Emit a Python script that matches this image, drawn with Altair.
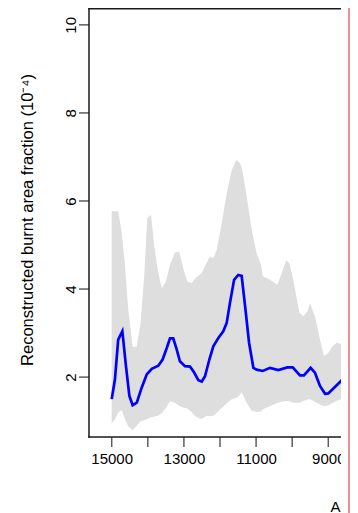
import altair as alt
import pandas as pd

# ---- data ----
line_age = [15000, 14910, 14820, 14705, 14605, 14510, 14420, 14305, 14170, 14030,
            13890, 13710, 13590, 13475, 13385, 13295, 13200, 13110, 12970, 12830,
            12720, 12600, 12505, 12415, 12295, 12185, 12045, 11910, 11815, 11725,
            11610, 11495, 11400, 11305, 11195, 11075, 10985, 10815, 10615, 10385,
            10135, 9985, 9785, 9675, 9490, 9370, 9230, 9090, 9000, 8860, 8675, 8600]
line_val = [1.50, 1.95, 2.85, 3.04, 2.25, 1.57, 1.36, 1.42, 1.76, 2.06,
            2.19, 2.26, 2.40, 2.66, 2.88, 2.88, 2.63, 2.36, 2.25, 2.24,
            2.11, 1.93, 1.90, 2.02, 2.40, 2.70, 2.89, 3.04, 3.23, 3.68,
            4.21, 4.32, 4.30, 3.61, 2.78, 2.21, 2.17, 2.14, 2.21, 2.16,
            2.22, 2.22, 2.04, 2.04, 2.21, 2.10, 1.80, 1.62, 1.63, 1.74, 1.89, 1.95]

band_age = [15000, 14910, 14820, 14720, 14630, 14540, 14420, 14310, 14200, 14100,
            14015, 13910, 13830, 13725, 13615, 13500, 13385, 13250, 13130, 13020,
            12905, 12785, 12665, 12510, 12370, 12280, 12185, 12090, 11955, 11815,
            11675, 11540, 11445, 11400, 11260, 11120, 10985, 10865, 10815, 10615,
            10410, 10290, 10170, 10080, 9970, 9800, 9690, 9580, 9505, 9370,
            9230, 9120, 9000, 8880, 8770, 8660, 8600]
band_upper = [5.78, 5.76, 5.77, 5.27, 4.51, 3.53, 2.69, 2.69, 3.23, 4.29,
              5.61, 5.68, 5.04, 4.44, 4.02, 4.17, 4.55, 4.83, 4.85, 4.47,
              4.17, 4.14, 4.26, 4.36, 4.59, 4.74, 4.70, 4.89, 5.49, 6.17,
              6.70, 6.94, 6.85, 6.77, 6.10, 5.34, 4.81, 4.55, 4.29, 4.21,
              4.10, 4.36, 4.65, 4.59, 4.21, 3.46, 3.38, 3.49, 3.68, 3.38,
              2.85, 2.48, 2.55, 2.70, 2.78, 2.76, 2.76]
band_lower = [0.95, 1.04, 1.20, 1.25, 1.04, 0.88, 0.80, 0.89, 1.00, 1.02,
              1.05, 1.09, 1.10, 1.12, 1.18, 1.30, 1.45, 1.42, 1.35, 1.31,
              1.29, 1.20, 1.10, 1.05, 1.12, 1.11, 1.12, 1.19, 1.30, 1.40,
              1.50, 1.53, 1.60, 1.66, 1.42, 1.23, 1.21, 1.22, 1.27, 1.34,
              1.42, 1.44, 1.46, 1.45, 1.42, 1.42, 1.46, 1.49, 1.50, 1.44,
              1.38, 1.34, 1.36, 1.41, 1.46, 1.50, 1.50]

x_ticks = [15000, 14000, 13000, 12000, 11000, 10000, 9000]
y_ticks = [2, 4, 6, 8, 10]

x_title = "Age (cal yr BP)"
y_title = "Reconstructed burnt area fraction (10\u207b\u2074)"

line_df = pd.DataFrame({"age": line_age, "val": line_val})
band_df = pd.DataFrame({"age": band_age, "upper": band_upper, "lower": band_lower})
xt_df = pd.DataFrame({"age": x_ticks})
yt_df = pd.DataFrame({"val": y_ticks})

FONT = "Liberation Sans"
W, H = 252, 428
LW = 1.5
INK = "#1a1a1a"

x_scale = alt.Scale(domain=[8648, 15629], reverse=True, nice=False, zero=False)
y_scale = alt.Scale(domain=[0.64, 10.36], nice=False, zero=False)

common = dict(
    domain=False, ticks=False, labelColor="black",
    labelFont=FONT, labelFontSize=15, tickSize=10,
    labelFlush=False, labelOverlap=False, grid=False, zindex=0,
    titleFont=FONT, titleFontWeight="normal", titleColor="black",
)

x_axis = alt.Axis(
    values=x_ticks,
    labelExpr="datum.value % 2000 == 1000 ? format(datum.value, 'd') : ''",
    labelPadding=14.6,
    title=x_title, titleX=241, titleY=74, titleAlign="left",
    titleBaseline="alphabetic", titleAngle=0, titleFontSize=15,
    **common,
)
y_axis = alt.Axis(
    values=y_ticks, format="d",
    labelAngle=270, labelAlign="center", labelBaseline="alphabetic",
    labelPadding=14,
    title=y_title, titleX=-56.5, titleY=210.5, titleAlign="center",
    titleBaseline="alphabetic", titleAngle=270, titleFontSize=16.5,
    **common,
)

band = alt.Chart(band_df).mark_area(color="#dedede", clip=True).encode(
    x=alt.X("age:Q", scale=x_scale, axis=x_axis, title=x_title),
    y=alt.Y("upper:Q", scale=y_scale, axis=y_axis, title=y_title),
    y2="lower:Q",
)

line = alt.Chart(line_df).mark_line(color="#0000ff", strokeWidth=2.7, clip=True).encode(
    x=alt.X("age:Q", scale=x_scale, axis=x_axis, title=x_title),
    y=alt.Y("val:Q", scale=y_scale, axis=y_axis, title=y_title),
)

# axis ticks (as tick marks)
x_tick_marks = alt.Chart(xt_df).mark_tick(
    orient="vertical", color=INK, thickness=LW, size=10
).encode(
    x=alt.X("age:Q", scale=x_scale, axis=x_axis, title=x_title),
    y=alt.value(H + 5),
)
y_tick_marks = alt.Chart(yt_df).mark_tick(
    orient="horizontal", color=INK, thickness=LW, size=10
).encode(
    y=alt.Y("val:Q", scale=y_scale, axis=y_axis, title=y_title),
    x=alt.value(-5),
)

one = alt.Data(values=[{}])
left_line = alt.Chart(one).mark_rect(color=INK).encode(
    x=alt.value(-LW / 2), x2=alt.value(LW / 2), y=alt.value(-1), y2=alt.value(H + LW / 2)
)
bottom_line = alt.Chart(one).mark_rect(color=INK).encode(
    x=alt.value(-LW / 2), x2=alt.value(W), y=alt.value(H - LW / 2), y2=alt.value(H + LW / 2)
)
top_line = alt.Chart(one).mark_rect(color=INK).encode(
    x=alt.value(-LW / 2), x2=alt.value(W), y=alt.value(-1), y2=alt.value(-1 + LW)
)
white_cover = alt.Chart(one).mark_rect(color="white").encode(
    x=alt.value(W), x2=alt.value(W + 7), y=alt.value(-5), y2=alt.value(H + 90)
)
red_line = alt.Chart(one).mark_rect(color="#e39393").encode(
    x=alt.value(W + 7), x2=alt.value(W + 9), y=alt.value(-5), y2=alt.value(H + 90)
)

chart = alt.layer(
    band, line, x_tick_marks, y_tick_marks,
    left_line, bottom_line, top_line, white_cover, red_line
).properties(
    width=W, height=H,
    autosize=alt.AutoSizeParams(type="none"),
    padding={"left": 81, "top": 1, "right": 9, "bottom": 76},
    background="white",
).configure_view(stroke=None)

chart.save("out.html", embed_options={"renderer": "svg", "actions": False})
